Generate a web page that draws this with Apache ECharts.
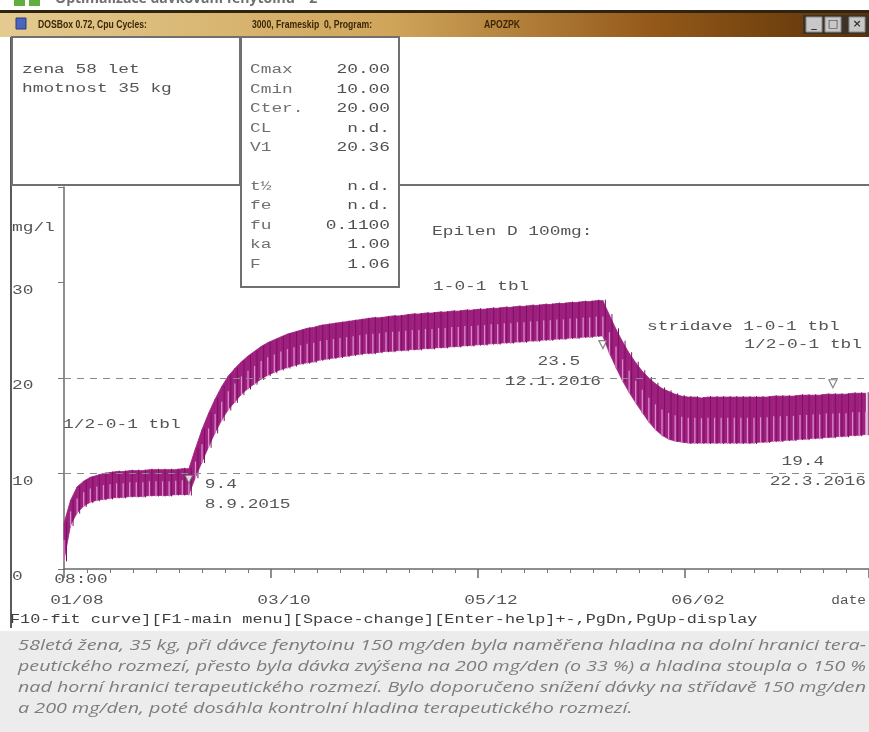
<!DOCTYPE html>
<html>
<head>
<meta charset="utf-8">
<script src="https://cdn.jsdelivr.net/npm/echarts@6.0.0/dist/echarts.min.js"></script>
<style>
  html, body { margin: 0; padding: 0; background: #fff; }
  #c { width: 869px; height: 732px; }
</style>
</head>
<body>
<div id="c"></div>
<script>
// Phenytoin serum level simulation (mg/l), sampled every 2 days from 1.8.2015 08:00
const sampleDays = [
  0, 2, 4, 6, 8, 10, 12, 14, 16, 18, 20, 22, 24, 26, 28, 30, 32, 34, 36, 38,
  40, 42, 44, 46, 48, 50, 52, 54, 56, 58, 60, 62, 64, 66, 68, 70, 72, 74, 76, 78,
  80, 82, 84, 86, 88, 90, 92, 94, 96, 98, 100, 102, 104, 106, 108, 110, 112, 114, 116, 118,
  120, 122, 124, 126, 128, 130, 132, 134, 136, 138, 140, 142, 144, 146, 148, 150, 152, 154, 156, 158,
  160, 162, 164, 166, 168, 170, 172, 174, 176, 178, 180, 182, 184, 186, 188, 190, 192, 194, 196, 198,
  200, 202, 204, 206, 208, 210, 212, 214, 216, 218, 220, 222, 224, 226, 228, 230, 232, 234, 236, 238,
  240, 242, 244
];
const peakLevels = [
  4.8, 7.2, 8.6, 9.2, 9.6, 9.8, 10.0, 10.1, 10.2, 10.2, 10.3, 10.3, 10.3, 10.4, 10.4, 10.4, 10.4, 10.4, 10.5, 10.5,
  12.6, 14.6, 16.3, 17.8, 19.1, 20.2, 21.0, 21.7, 22.3, 22.8, 23.3, 23.7, 24.0, 24.3, 24.6, 24.8, 25.0, 25.2, 25.3, 25.5,
  25.6, 25.7, 25.8, 25.9, 26.0, 26.1, 26.2, 26.3, 26.3, 26.4, 26.5, 26.5, 26.6, 26.7, 26.7, 26.8, 26.8, 26.9, 26.9, 27.0,
  27.0, 27.1, 27.1, 27.2, 27.2, 27.3, 27.3, 27.4, 27.4, 27.5, 27.5, 27.6, 27.6, 27.7, 27.7, 27.8, 27.8, 27.9, 27.9, 28.0,
  28.0, 28.1, 28.1, 26.6, 25.1, 23.8, 22.6, 21.6, 20.7, 20.0, 19.4, 18.9, 18.6, 18.3, 18.1, 18.0, 18.0, 17.9, 18.0, 18.0,
  18.0, 18.0, 18.0, 18.0, 18.0, 18.0, 18.0, 18.0, 18.1, 18.1, 18.1, 18.1, 18.2, 18.2, 18.2, 18.2, 18.3, 18.3, 18.3, 18.3,
  18.4, 18.4, 18.4
];
const troughLevels = [
  0.9, 4.6, 5.9, 6.6, 7.0, 7.2, 7.3, 7.4, 7.5, 7.5, 7.6, 7.6, 7.6, 7.7, 7.7, 7.7, 7.7, 7.8, 7.8, 7.8,
  9.6, 11.2, 12.8, 14.3, 15.6, 16.7, 17.5, 18.3, 18.9, 19.4, 19.9, 20.3, 20.6, 20.9, 21.1, 21.3, 21.5, 21.6, 21.7, 21.9,
  22.0, 22.1, 22.2, 22.3, 22.4, 22.5, 22.6, 22.6, 22.7, 22.8, 22.8, 22.9, 22.9, 23.0, 23.0, 23.1, 23.1, 23.2, 23.2, 23.3,
  23.3, 23.4, 23.4, 23.5, 23.5, 23.6, 23.6, 23.7, 23.7, 23.8, 23.8, 23.9, 23.9, 24.0, 24.0, 24.1, 24.1, 24.2, 24.2, 24.3,
  24.3, 24.4, 24.4, 22.6, 21.1, 19.7, 18.5, 17.4, 16.4, 15.4, 14.6, 14.0, 13.6, 13.4, 13.3, 13.2, 13.2, 13.2, 13.2, 13.2,
  13.2, 13.2, 13.2, 13.2, 13.2, 13.2, 13.3, 13.3, 13.4, 13.4, 13.5, 13.5, 13.6, 13.6, 13.7, 13.7, 13.8, 13.8, 13.9, 13.9,
  14.0, 14.0, 14.1
];

// Measured levels
const measuredDays = [38, 164, 234];
const measuredLevels = [9.4, 23.5, 19.4];
const measuredDates = ['8.9.2015', '12.1.2016', '22.3.2016'];

// Therapeutic range limits (mg/l)
const therapeuticRange = [10, 20];

// Axis ticks
const xTickDays = [0, 63, 126, 189];
const xTickDates = ['01/08', '03/10', '05/12', '06/02'];
const firstTickTime = '08:00';
const yTickValues = [0, 10, 20, 30];

// Panel texts
const patientInfo = ['zena 58 let', 'hmotnost 35 kg'];
const paramNames = ['Cmax', 'Cmin', 'Cter.', 'CL', 'V1', 't\u00bd', 'fe', 'fu', 'ka', 'F'];
const paramValues = ['20.00', '10.00', '20.00', 'n.d.', '20.36', 'n.d.', 'n.d.', '0.1100', '1.00', '1.06'];
const captionLines = [
  '58letá žena, 35 kg, při dávce fenytoinu 150 mg/den byla naměřena hladina na dolní hranici tera-',
  'peutického rozmezí, přesto byla dávka zvýšena na 200 mg/den (o 33 %) a hladina stoupla o 150 %',
  'nad horní hranici terapeutického rozmezí. Bylo doporučeno snížení dávky na střídavě 150 mg/den',
  'a 200 mg/den, poté dosáhla kontrolní hladina terapeutického rozmezí.'
];

const BAND = '#9e1f7e';
const bandData = sampleDays.map((d, i) => [d, troughLevels[i], peakLevels[i]]);

// Each sample draws the band slice up to the next sample plus the dose streaks
function renderBand(params, api) {
  const i = params.dataIndex;
  const lo = api.coord([api.value(0), api.value(1)]);
  const hi = api.coord([api.value(0), api.value(2)]);
  const kids = [];
  if (i + 1 < bandData.length) {
    const nx = bandData[i + 1];
    const nlo = api.coord([nx[0], nx[1]]);
    const nhi = api.coord([nx[0], nx[2]]);
    kids.push({ type: 'polygon', shape: { points: [lo, hi, nhi, nlo] },
      style: { fill: BAND, stroke: BAND, lineWidth: 0.8 } });
  }
  const mid = lo[1] + (hi[1] - lo[1]) * 0.55;
  kids.push({ type: 'line', shape: { x1: lo[0], y1: lo[1] + 1, x2: lo[0], y2: mid },
    style: { stroke: '#d98bcb', lineWidth: 1.3 } });
  kids.push({ type: 'line', shape: { x1: lo[0] + 2.5, y1: hi[1] - 1, x2: lo[0] + 2.5, y2: lo[1] + 1 },
    style: { stroke: '#7a1262', lineWidth: 1 } });
  return { type: 'group', children: kids };
}

const chart = echarts.init(document.getElementById('c'), null, { renderer: 'canvas' });
chart.setOption({
  animation: false,
  backgroundColor: '#ffffff',
  grid: { left: 64, right: 0, top: 187, bottom: 163 },
  xAxis: {
    type: 'value', min: 0, max: 245, interval: 63,
    axisLine: { lineStyle: { color: '#6a6a6a', width: 1.5 } },
    axisTick: { length: 9, lineStyle: { color: '#6a6a6a', width: 1.5 } },
    minorTick: { show: true, splitNumber: 9, length: 4, lineStyle: { color: '#777', width: 1 } },
    axisLabel: { show: false },
    splitLine: { show: false }
  },
  yAxis: {
    type: 'value', min: 0, max: 40, interval: 10,
    axisLine: { show: true, lineStyle: { color: '#6a6a6a', width: 1.5 } },
    axisTick: { show: true, length: 6, lineStyle: { color: '#777', width: 1 } },
    axisLabel: { show: false },
    splitLine: { show: false }
  },
  series: [
    {
      type: 'line', data: [], silent: true,
      markLine: {
        silent: true, symbol: 'none', label: { show: false },
        lineStyle: { type: [7, 6], color: '#8a8a8a', width: 1.2 },
        data: therapeuticRange.map(v => ({ yAxis: v }))
      }
    },
    {
      type: 'custom', data: bandData, renderItem: renderBand,
      encode: { x: 0, y: [1, 2] }, z: 3, silent: true
    },
    {
      type: 'scatter', z: 5,
      data: measuredDays.map((d, i) => [d, measuredLevels[i]]),
      symbol: 'triangle', symbolRotate: 180, symbolSize: 8,
      itemStyle: { color: '#ffffff', borderColor: '#666', borderWidth: 1.2 }
    }
  ]
});

// ---- text and window chrome ----
const measureCtx = document.createElement('canvas').getContext('2d');
function textWidth(str, font) { measureCtx.font = font; return measureCtx.measureText(str).width; }

const DOS_FONT = '12px "Liberation Mono"';
const DOS_SCALE = 10.7 / textWidth('M', DOS_FONT);
function dos(x, y, str, align, fill, scale) {
  return {
    type: 'text', x: x, y: y, scaleX: scale || DOS_SCALE, z: 30,
    style: { text: str, font: DOS_FONT, fill: fill || '#555555', align: align || 'left', verticalAlign: 'middle' }
  };
}
const px = (d, v) => chart.convertToPixel({ gridIndex: 0 }, [d, v]);

const g = [];

// heading strip above the window
g.push({ type: 'rect', shape: { x: 14, y: -4, width: 11, height: 10 }, style: { fill: '#5fae3e' }, z: 30 });
g.push({ type: 'rect', shape: { x: 29, y: -4, width: 11, height: 10 }, style: { fill: '#5fae3e' }, z: 30 });
g.push({ type: 'text', x: 55, y: -1, z: 30,
  style: { text: 'Optimalizace dávkování fenytoinu – 2', font: 'bold 14px "Open Sans"', fill: '#707070', verticalAlign: 'middle' } });

// title bar
g.push({ type: 'rect', shape: { x: 0, y: 10, width: 869, height: 27 }, z: 20,
  style: { fill: new echarts.graphic.LinearGradient(0, 0, 1, 0, [
    { offset: 0, color: '#e4cb90' }, { offset: 0.45, color: '#cfa55a' },
    { offset: 0.75, color: '#94591a' }, { offset: 1, color: '#5a3208' }]) } });
g.push({ type: 'rect', shape: { x: 0, y: 10, width: 869, height: 3 }, style: { fill: '#2e2410' }, z: 21 });
g.push({ type: 'rect', shape: { x: 16, y: 18, width: 10, height: 11 }, style: { fill: '#4a64c0', stroke: '#2a3a80', lineWidth: 1 }, z: 22 });
const TITLE_FONT = 'bold 11px "Liberation Sans"';
const titleScale = 109 / textWidth('DOSBox 0.72, Cpu Cycles:', TITLE_FONT);
[['DOSBox 0.72, Cpu Cycles:', 38], ['3000, Frameskip  0, Program:', 252], ['APOZPK', 484]].forEach(([t, x]) => {
  g.push({ type: 'text', x: x, y: 25, scaleX: titleScale, z: 22,
    style: { text: t, font: TITLE_FONT, fill: '#3b2607', verticalAlign: 'middle' } });
});
// window buttons
g.push({ type: 'rect', shape: { x: 803, y: 15, width: 66, height: 19 }, style: { fill: '#3c3226' }, z: 22 });
[[806, '_'], [825, '□'], [849, '×']].forEach(([x, s]) => {
  g.push({ type: 'rect', shape: { x: x, y: 17, width: 16, height: 15 }, style: { fill: '#c8c8c8', stroke: '#888', lineWidth: 1 }, z: 23 });
  g.push({ type: 'text', x: x + 8, y: 24, z: 24, style: { text: s, font: 'bold 11px "DejaVu Sans"', fill: '#333', align: 'center', verticalAlign: 'middle' } });
});

// window frame and panels
g.push({ type: 'line', shape: { x1: 11, y1: 37, x2: 11, y2: 628 }, style: { stroke: '#5a5a5a', lineWidth: 2 }, z: 20 });
g.push({ type: 'line', shape: { x1: 11, y1: 185, x2: 869, y2: 185 }, style: { stroke: '#707070', lineWidth: 2 }, z: 20 });
g.push({ type: 'rect', shape: { x: 12, y: 37, width: 228, height: 148 }, style: { fill: '#fff', stroke: '#707070', lineWidth: 2 }, z: 21 });
g.push({ type: 'rect', shape: { x: 241, y: 37, width: 158, height: 250 }, style: { fill: '#fff', stroke: '#707070', lineWidth: 2 }, z: 21 });

patientInfo.forEach((t, i) => g.push(dos(22, 70 + i * 19, t)));
const paramRowsY = [70, 90, 109, 129, 148, 187, 206, 226, 245, 265];
paramNames.forEach((t, i) => {
  g.push(dos(250, paramRowsY[i], t, 'left', '#707070'));
  g.push(dos(390, paramRowsY[i], paramValues[i], 'right', '#4f4f4f'));
});

// axis texts
g.push(dos(12, 228, 'mg/l'));
yTickValues.forEach(v => { const p = px(0, v); g.push(dos(12, p[1] + 8, String(v))); });
xTickDays.forEach((d, i) => {
  const p = px(d, 0);
  if (i === 0) g.push(dos(p[0] + 17, 580, firstTickTime, 'center'));
  g.push(dos(p[0] + 13, 601, xTickDates[i], 'center'));
});
g.push(dos(866, 601, 'date', 'right', '#555555', 1.2 * DOS_SCALE / 1.48));

// dosing regimen notes
g.push(dos(432, 232, 'Epilen D 100mg:'));
g.push(dos(63, 425, '1/2-0-1 tbl'));
g.push(dos(433, 287, '1-0-1 tbl'));
g.push(dos(647, 327, 'stridave 1-0-1 tbl'));
g.push(dos(862, 345, '1/2-0-1 tbl', 'right'));

// measured level labels (value above date)
const measuredLabelOffsets = [
  { dx: 16, dy: 6, dx2: 16, align: 'left' },
  { dx: -44, dy: 17, dx2: -50, align: 'center' },
  { dx: -30, dy: 78, dx2: -15, align: 'center' }
];
measuredDays.forEach((d, i) => {
  const p = px(d, measuredLevels[i]);
  const o = measuredLabelOffsets[i];
  g.push(dos(p[0] + o.dx, p[1] + o.dy, measuredLevels[i].toFixed(1), o.align));
  g.push(dos(p[0] + o.dx2, p[1] + o.dy + 20, measuredDates[i], o.align));
});

// key help line
g.push(dos(10, 620, 'F10-fit curve][F1-main menu][Space-change][Enter-help]+-,PgDn,PgUp-display', 'left', '#3f3f3f', 10.1 / textWidth('M', DOS_FONT)));

// caption
g.push({ type: 'rect', shape: { x: 0, y: 631, width: 869, height: 101 }, style: { fill: '#ececec' }, z: 20 });
const CAP_FONT = 'italic 14px "Open Sans"';
const capScales = captionLines.slice(0, 3).map(t => 848 / textWidth(t, CAP_FONT));
const capScaleAvg = capScales.reduce((a, b) => a + b, 0) / capScales.length;
captionLines.forEach((t, i) => {
  g.push({ type: 'text', x: 18, y: 646 + i * 21, scaleX: i < 3 ? capScales[i] : capScaleAvg, z: 21,
    style: { text: t, font: CAP_FONT, fill: '#7d7d7d', verticalAlign: 'middle' } });
});

chart.setOption({ graphic: { elements: g } });
</script>
</body>
</html>
